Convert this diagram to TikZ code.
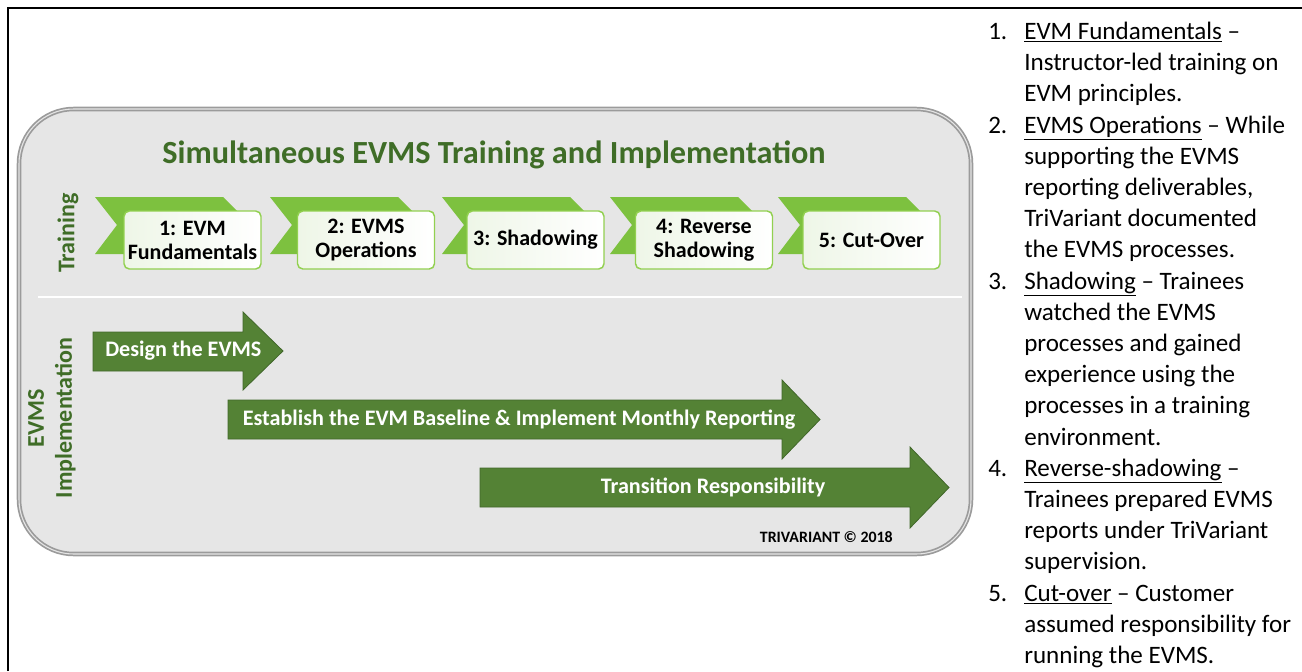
\documentclass[tikz,border=0pt]{standalone}
\usepackage{fontspec}
\setmainfont{Carlito}
\definecolor{chev}{HTML}{7DC13F}
\definecolor{arr}{HTML}{548235}
\definecolor{arrb}{HTML}{41672A}
\definecolor{ttl}{HTML}{3F6D27}
\definecolor{panel}{HTML}{E6E6E6}
\definecolor{bevel}{HTML}{9B9B9B}
\definecolor{boxb}{HTML}{92D050}
\definecolor{boxg}{HTML}{EEF6E7}
\begin{document}
\begin{tikzpicture}[x=0.75pt,y=-0.75pt,
  stepbox/.style={draw=boxb, line width=1.1pt, rounded corners=4pt, left color=boxg, right color=white,
    minimum width=102.75pt, minimum height=43.5pt, inner sep=1pt, align=center,
    font=\fontsize{16.5}{18}\selectfont\bfseries},
  chevshape/.style={fill=chev},
  bigarrow/.style={fill=arr, draw=arrb, line width=0.6pt},
  arrtxt/.style={text=white, font=\fontsize{16.6}{18}\selectfont\bfseries, inner sep=0pt},
  lanelbl/.style={text=ttl, rotate=90, align=center, font=\fontsize{18}{21}\selectfont\bfseries},
  listtxt/.style={anchor=base west, inner sep=0pt, font=\fontsize{18.8}{22}\selectfont}
]
\useasboundingbox (0,0) rectangle (1302,671);
% frame
\draw[line width=1.6pt] (8,671) -- (8,8) -- (1302,8);
% panel
\draw[fill=panel, draw=bevel, line width=3.4pt, rounded corners=41pt] (19,109) rectangle (971,554);
\draw[draw=white!80!gray, line width=0.8pt, rounded corners=41pt] (19,109) rectangle (971,554);
% title
\node[text=ttl, font=\fontsize{24.2}{28}\selectfont\bfseries] (title) at (494,155) {Simultaneous EVMS Training and Implementation};
% lane labels
\node[lanelbl] (ltrain) at (68,233) {Training};
\node[lanelbl] (limpl) at (52,418) {EVMS\\Implementation};
% separator
\draw[white, line width=1.5pt] (38,297) -- (962,297);
% chevrons and boxes
\foreach \i/\cx/\bx/\txt in {1/95/192.5/{1: EVM\\Fundamentals}, 2/270/366/{2: EVMS\\Operations}, 3/442/535.5/{3: Shadowing}, 4/610/704/{4: Reverse\\Shadowing}, 5/778/871.5/{5: Cut-Over}}{
  \fill[chevshape] (\cx,197) -- ++(128,0) -- ++(28,28) -- ++(-28,29) -- ++(-128,0) -- ++(22,-29) -- cycle;
  \node[stepbox] (b\i) at (\bx,240) {\txt};
}
% implementation arrows
\draw[bigarrow] (93,332) -- (243,332) -- (243,312) -- (283,351) -- (243,390) -- (243,371) -- (93,371) -- cycle;
\node[arrtxt, anchor=west] (a1) at (105,351) {Design the EVMS};
\draw[bigarrow] (228,400) -- (782,400) -- (782,380) -- (820,419.5) -- (782,459) -- (782,439) -- (228,439) -- cycle;
\node[arrtxt] (a2) at (519,419.5) {Establish the EVM Baseline \& Implement Monthly Reporting};
\draw[bigarrow] (480,468) -- (910,468) -- (910,447) -- (949,487.5) -- (910,528) -- (910,507) -- (480,507) -- cycle;
\node[arrtxt] (a3) at (713,487.5) {Transition Responsibility};
% copyright
\node[anchor=east, inner sep=0pt, font=\fontsize{11.9}{13}\selectfont\bfseries] (copy) at (893,537) {TRIVARIANT © 2018};
% list numbers
\foreach \n/\num in {0/1., 3/2., 8/3., 14/4., 18/5.}{
  \node[listtxt] (n\n) at (988,{39.5+31.2*\n}) {\num};
}
% list lines
\foreach \n/\txt in {
 0/{\underline{EVM Fundamentals} –},
 1/{Instructor-led training on},
 2/{EVM principles.},
 3/{\underline{EVMS Operations} – While},
 4/{supporting the EVMS},
 5/{reporting deliverables,},
 6/{TriVariant documented},
 7/{the EVMS processes.},
 8/{\underline{Shadowing} – Trainees},
 9/{watched the EVMS},
 10/{processes and gained},
 11/{experience using the},
 12/{processes in a training},
 13/{environment.},
 14/{\underline{Reverse-shadowing} –},
 15/{Trainees prepared EVMS},
 16/{reports under TriVariant},
 17/{supervision.},
 18/{\underline{Cut-over} – Customer},
 19/{assumed responsibility for},
 20/{running the EVMS.}}{
  \node[listtxt] (t\n) at (1024,{39.5+31.2*\n}) {\txt};
}
\end{tikzpicture}
\end{document}
